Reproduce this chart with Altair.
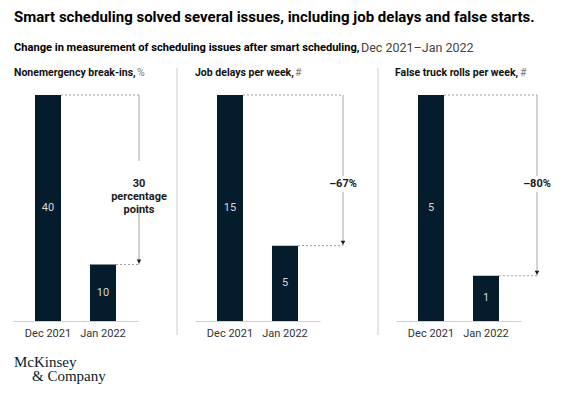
import altair as alt
import pandas as pd

# ---- data ----
periods = ["Dec 2021", "Jan 2022"]
breakins = [40, 10]
delays = [15, 5]
truck_rolls = [5, 1]
panel_titles = ["Nonemergency break-ins,", "Job delays per week,", "False truck rolls per week,"]
panel_units = ["%", "#", "#"]
changes = ["30\npercentage\npoints", "\u201367%", "\u201380%"]
title_text = "Smart scheduling solved several issues, including job delays and false starts."
subtitle_bold = "Change in measurement of scheduling issues after smart scheduling,"
subtitle_regular = "Dec 2021\u2013Jan 2022"
logo_lines = ["McKinsey", "& Company"]

series = [breakins, delays, truck_rolls]

NAVY = "#051c2c"
FONT = "Roboto"
GRAY = "#a6a6a6"

panel_widths = [125, 144, 125]
arrow_xs = [126, 148, 141]
unit_xs = [124, 100, 124]
H = 226


def one(text):
    return alt.Chart(pd.DataFrame({"t": [text]}))


def panel(i):
    vals = series[i]
    df = pd.DataFrame({"period": periods, "value": vals})
    base = alt.Chart(df)
    xs = alt.Scale(range=[0, 125], paddingInner=0.527, paddingOuter=0.4)
    xaxis = alt.Axis(title=None, ticks=False, tickSize=0, labelPadding=6, labelAngle=0,
                     labelFont=FONT, labelFontSize=11, labelColor="#333333",
                     domainColor="#cfcfcf", domainWidth=1, grid=False)
    ys = alt.Scale(domain=[0, max(vals)], nice=False, zero=True)
    x = alt.X("period:N", sort=periods, scale=xs, axis=xaxis)
    y = alt.Y("value:Q", scale=ys, axis=None)

    bars = base.mark_bar(color=NAVY).encode(x=x, y=y)
    vlabels = base.transform_calculate(mid="datum.value / 2").mark_text(
        font=FONT, fontSize=11, color="#d6d6d6", baseline="middle"
    ).encode(x=x, y=alt.Y("mid:Q", scale=ys, axis=None), text="value:Q")

    ax = arrow_xs[i]
    dashes = base.mark_rule(strokeDash=[2, 2], color="#a0a0a0", strokeWidth=1).encode(
        x=alt.X("period:N", sort=periods, scale=xs, axis=xaxis, bandPosition=1),
        x2=alt.value(ax),
        y=y,
    )
    if i == 0:
        gap_top, gap_bot = 66, 112
    else:
        gap_top, gap_bot = 81, 97
    seg1 = one("a").mark_rule(color=GRAY, strokeWidth=1).encode(
        x=alt.value(ax), y=alt.datum(vals[0]), y2=alt.value(gap_top))
    seg2 = one("b").mark_rule(color=GRAY, strokeWidth=1).encode(
        x=alt.value(ax), y=alt.datum(vals[1]), y2=alt.value(gap_bot))
    head = one("c").mark_point(shape="triangle-down", filled=True, color="#1a1a1a",
                               size=22, opacity=1, yOffset=-3).encode(
        x=alt.value(ax), y=alt.datum(vals[1]))
    change = one(changes[i]).mark_text(
        font=FONT, fontSize=11, fontWeight="bold", color="#1a1a1a",
        baseline="middle", align="center", lineBreak="\n", lineHeight=13
    ).encode(x=alt.value(ax), y=alt.value(89), text="t:N")

    ptitle = one(panel_titles[i]).mark_text(
        font=FONT, fontSize=10.5, fontWeight="bold", color="#111111",
        baseline="middle", align="left"
    ).encode(x=alt.value(1 if i == 0 else -1 if i == 2 else 0), y=alt.value(-22), text="t:N")
    punit = one(panel_units[i]).mark_text(
        font=FONT, fontSize=10.5, color="#777777", baseline="middle", align="left"
    ).encode(x=alt.value(unit_xs[i]), y=alt.value(-22), text="t:N")

    layers = [bars, vlabels, dashes, seg1, seg2, head, change, ptitle, punit]

    if i > 0:
        divider = one("d").mark_rule(color="#dedede", strokeWidth=1.5).encode(
            x=alt.value(-18), y=alt.value(-27), y2=alt.value(240))
        layers.append(divider)
    else:
        t1 = one(title_text).mark_text(
            font=FONT, fontSize=15, fontWeight="bold", color="#000000",
            baseline="middle", align="left").encode(
            x=alt.value(1), y=alt.value(-78), text="t:N")
        t2 = one(subtitle_bold).mark_text(
            font=FONT, fontSize=11.1, fontWeight="bold", color="#000000",
            baseline="middle", align="left").encode(
            x=alt.value(1), y=alt.value(-47), text="t:N")
        t3 = one(subtitle_regular).mark_text(
            font=FONT, fontSize=12.5, color="#444444",
            baseline="middle", align="left").encode(
            x=alt.value(348), y=alt.value(-47), text="t:N")
        l1 = one(logo_lines[0]).mark_text(
            font="Liberation Serif", fontSize=15, color=NAVY,
            baseline="middle", align="left").encode(
            x=alt.value(1), y=alt.value(267), text="t:N")
        l2 = one(logo_lines[1]).mark_text(
            font="Liberation Serif", fontSize=15, color=NAVY,
            baseline="middle", align="left").encode(
            x=alt.value(19), y=alt.value(281), text="t:N")
        layers += [t1, t2, t3, l1, l2]

    return alt.layer(*layers).properties(width=panel_widths[i], height=H)


chart = alt.hconcat(panel(0), panel(1), panel(2), spacing=57, bounds="flush").properties(
    padding={"left": 5, "top": 2, "right": 5, "bottom": 0},
    background="white",
).configure_view(stroke=None)

chart.save("out.html", embed_options={"renderer": "svg", "actions": False})
